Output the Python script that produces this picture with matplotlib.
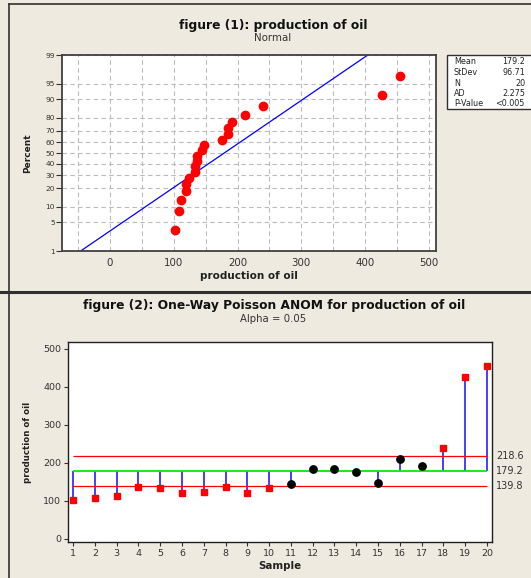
import matplotlib
matplotlib.use('Agg')
import matplotlib.pyplot as plt
from matplotlib.patches import Rectangle
from matplotlib.lines import Line2D
from statistics import NormalDist
import numpy as np

# production of oil, samples 1..20
samples = list(range(1, 21))
production = [102, 109, 112, 137, 133, 120, 124, 137, 120, 133,
              144, 185, 185, 176, 148, 211, 192, 240, 426, 455]

mean_val = 179.2
std_val = 96.71
n_val = 20
ad_val = 2.275
p_text = '<0.005'

center = 179.2
udl = 218.6
ldl = 139.8

pct_ticks = [1, 5, 10, 20, 30, 40, 50, 60, 70, 80, 90, 95, 99]

bg = '#EEEAE0'
W, H = 531, 578

fig = plt.figure(figsize=(W / 100, H / 100), dpi=100, facecolor=bg)


def fx(px):
    return px / W


def fy(py):
    return 1 - py / H


# frame lines of the two panels
fig.add_artist(Line2D([fx(9), fx(9)], [0, fy(4)], color='#303030', lw=1.2))
fig.add_artist(Line2D([fx(9), 1], [fy(4), fy(4)], color='#303030', lw=1.2))
fig.add_artist(Line2D([0, 1], [fy(292), fy(292)], color='#303030', lw=2.2))


# ---- figure 1: normal probability plot ----
_nd = NormalDist()
_ppf = np.vectorize(lambda v: _nd.inv_cdf(v / 100), otypes=[float])
_cdf = np.vectorize(lambda v: _nd.cdf(v) * 100, otypes=[float])


def fwd(p):
    p = np.clip(np.asarray(p, dtype=float), 1e-4, 100 - 1e-4)
    return _ppf(p)


def inv(z):
    return _cdf(np.asarray(z, dtype=float))


ax1 = fig.add_axes([fx(62), fy(251), fx(436) - fx(62), fy(55) - fy(251)])
ax1.set_facecolor('white')
ax1.set_yscale('function', functions=(fwd, inv))

srt = sorted(production)
pct = [(i + 1 - 0.3) / (n_val + 0.4) * 100 for i in range(n_val)]
ax1.plot(srt, pct, 'o', color='#FF0000', ms=6, zorder=3)

fit = NormalDist(mean_val, std_val)
xl = np.linspace(fit.inv_cdf(0.01), fit.inv_cdf(0.99), 50)
ax1.plot(xl, [fit.cdf(v) * 100 for v in xl], color='#0000FF', lw=0.9, zorder=2)

ax1.set_xlim(-75, 511)
ax1.set_ylim(1, 99)
ax1.set_yticks(pct_ticks)
ax1.set_yticklabels([str(t) for t in pct_ticks], fontsize=5.3, color='#333333')
ax1.yaxis.set_minor_locator(matplotlib.ticker.NullLocator())
ax1.set_xticks([0, 100, 200, 300, 400, 500])
ax1.set_xticks(np.arange(-50, 501, 50), minor=True)
ax1.tick_params(axis='x', labelsize=7.4, colors='#333333', length=0, which='both', pad=5)
ax1.tick_params(axis='y', length=4, width=0.8, color='#333333', pad=1)
ax1.grid(True, which='both', axis='x', color='#BBBBBB', ls='--', lw=0.8, dashes=(4, 3))
ax1.grid(True, which='major', axis='y', color='#BBBBBB', ls='--', lw=0.8, dashes=(4, 3))
ax1.set_axisbelow(True)
for s in ax1.spines.values():
    s.set_color('#404040')
    s.set_linewidth(1.3)
ax1.set_xlabel('production of oil', fontsize=7.5, fontweight='bold', color='#222222', labelpad=2)
ax1.set_ylabel('Percent', fontsize=6.5, fontweight='bold', color='#222222', labelpad=10)

fig.text(fx(273), fy(25), 'figure (1): production of oil', ha='center', va='center',
         fontsize=8.8, fontweight='bold', color='#111111')
fig.text(fx(273), fy(38), 'Normal', ha='center', va='center', fontsize=7.4, color='#333333')

# stats box
fig.add_artist(Rectangle((fx(447), fy(109)), fx(531) - fx(447) + 0.01, fy(55) - fy(109),
                         transform=fig.transFigure, facecolor='white', edgecolor='#303030', lw=1))
rows = [('Mean', f'{mean_val}'), ('StDev', f'{std_val}'), ('N', f'{n_val}'),
        ('AD', f'{ad_val}'), ('P-Value', p_text)]
for i, (k, v) in enumerate(rows):
    yy = fy(62 + i * 10.5)
    fig.text(fx(454), yy, k, ha='left', va='center', fontsize=5.8, color='#222222')
    fig.text(fx(525), yy, v, ha='right', va='center', fontsize=5.8, color='#222222')


# ---- figure 2: one-way Poisson ANOM ----
ax2 = fig.add_axes([fx(68), fy(542), fx(492) - fx(68), fy(342) - fy(542)])
ax2.set_facecolor('white')

ax2.vlines(samples, center, production, color='#3333FF', lw=1.3, zorder=2)
ax2.hlines(center, samples[0], samples[-1], color='#00EE00', lw=1.3, zorder=3)
ax2.hlines([udl, ldl], samples[0], samples[-1], color='#FF0000', lw=0.9, zorder=3)

out = [(s, v) for s, v in zip(samples, production) if v > udl or v < ldl]
ins = [(s, v) for s, v in zip(samples, production) if ldl <= v <= udl]
ax2.plot([a for a, b in out], [b for a, b in out], 's', color='#FF0000', ms=5, zorder=4)
ax2.plot([a for a, b in ins], [b for a, b in ins], 'o', color='black', ms=5.3, zorder=4)

ax2.set_xlim(0.77, 20.23)
ax2.set_ylim(-8, 518)
ax2.set_xticks(samples)
ax2.set_yticks([0, 100, 200, 300, 400, 500])
ax2.tick_params(axis='both', labelsize=6.8, colors='#333333', length=3, width=0.8, pad=2)
for s in ax2.spines.values():
    s.set_color('#202020')
    s.set_linewidth(1.0)
ax2.set_xlabel('Sample', fontsize=7.4, fontweight='bold', color='#222222', labelpad=2)
ax2.set_ylabel('production of oil', fontsize=6.2, fontweight='bold', color='#222222', labelpad=8)

for val in [udl, center, ldl]:
    ax2.text(1.01, val, f'{val}', transform=ax2.get_yaxis_transform(), ha='left', va='center',
             fontsize=7, color='#333333')

fig.text(fx(274), fy(306), 'figure (2): One-Way Poisson ANOM for production of oil', ha='center',
         va='center', fontsize=8.8, fontweight='bold', color='#111111')
fig.text(fx(273), fy(319), 'Alpha = 0.05', ha='center', va='center', fontsize=7.3, color='#333333')

fig.savefig('out.png', dpi=100, facecolor=bg)
